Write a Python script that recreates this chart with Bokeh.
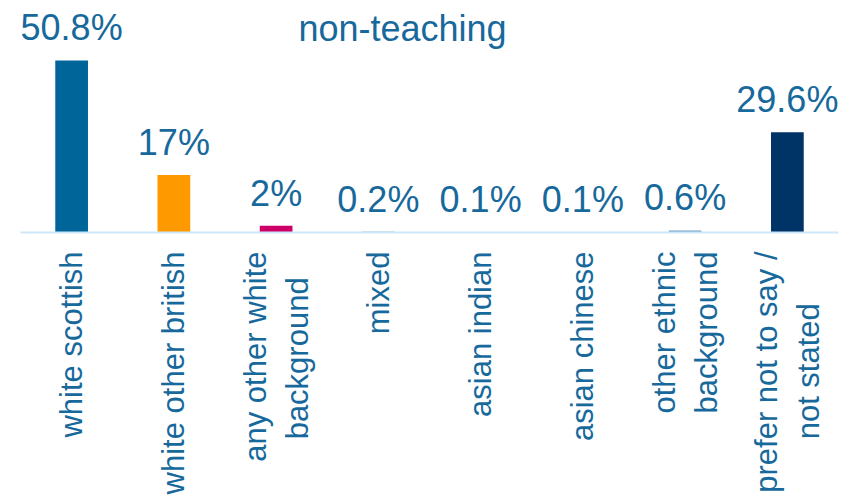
import math
from bokeh.plotting import figure
from bokeh.models import ColumnDataSource, Range1d, LabelSet, Label
from bokeh.core.properties import value
from bokeh.embed import file_html
from bokeh.resources import INLINE

categories = ["white scottish", "white other british", "any other white\nbackground", "mixed",
              "asian indian", "asian chinese", "other ethnic\nbackground", "prefer not to say /\nnot stated"]
values = [50.8, 17, 2, 0.2, 0.1, 0.1, 0.6, 29.6]
value_labels = ["50.8%", "17%", "2%", "0.2%", "0.1%", "0.1%", "0.6%", "29.6%"]
colors = ["#006699", "#ff9900", "#cc0066", "#2a78ad", "#2a78ad", "#2a78ad", "#6b9cc4", "#003366"]
title_text = "non-teaching"

TXT = "#17699c"
FONT = "Liberation Sans"
NB = "\u00a0"

# Arial / Liberation Sans advance widths (1/1000 em); Bokeh end-aligns the lines of a
# rotated multi-line tick label, so shorter lines get trailing no-break spaces to look centred
ADV = {" ": 278, "/": 278, "a": 556, "b": 556, "c": 500, "d": 556, "e": 556, "f": 278, "g": 556,
       "h": 556, "i": 222, "k": 500, "l": 222, "m": 833, "n": 556, "o": 556, "p": 556, "r": 333,
       "s": 500, "t": 278, "u": 556, "w": 722, "x": 500, "y": 500}


def em(s):
    return sum(ADV.get(ch, 556) for ch in s) / 1000.0


def centred(label):
    lines = label.split("\n")
    if len(lines) == 1:
        return label
    longest = max(em(ln) for ln in lines)
    return "\n".join(ln + NB * int(round((longest - em(ln)) / 2 / 0.278)) for ln in lines)


factors = [centred(c) for c in categories]

src = ColumnDataSource(dict(cat=factors, val=values, lab=value_labels, col=colors))

p = figure(x_range=factors, y_range=Range1d(0, 66.15), width=859, height=499,
           output_backend="svg", toolbar_location=None,
           min_border_left=20, min_border_right=21, min_border_top=8, min_border_bottom=267)
p.outline_line_color = None
p.xgrid.grid_line_color = None
p.ygrid.grid_line_color = None
p.yaxis.visible = False
p.background_fill_color = "white"

p.vbar(x="cat", top="val", bottom=0, width=0.32, fill_color="col", line_color=None, source=src)

labels = LabelSet(x="cat", y="val", text="lab", source=src, y_offset=20,
                  text_align="center", text_baseline="alphabetic",
                  text_font=value(FONT), text_font_size=value("36px"), text_color=value(TXT))
p.add_layout(labels)

p.add_layout(Label(x=3.736, y=60.25, text=title_text, text_align="center", text_baseline="alphabetic",
                   text_font=FONT, text_font_size="36px", text_color=TXT))

ax = p.xaxis[0]
ax.axis_line_color = "#cfe8f8"
ax.axis_line_width = 2
ax.major_tick_line_color = None
ax.major_tick_out = 0
ax.major_tick_in = 0
ax.minor_tick_line_color = None
ax.major_label_orientation = math.pi / 2
ax.major_label_standoff = 19
ax.major_label_text_font = FONT
ax.major_label_text_font_size = "31px"
ax.major_label_text_color = TXT

open("out.html", "w").write(file_html(p, INLINE))
